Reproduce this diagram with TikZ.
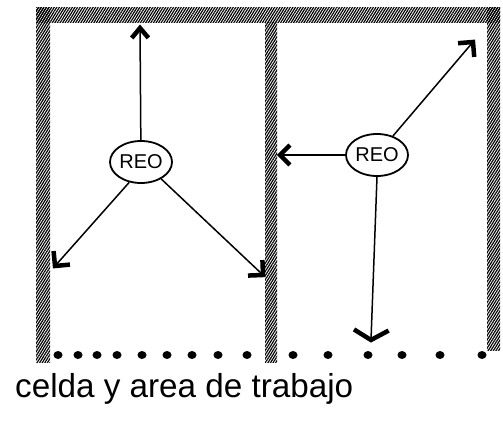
\documentclass[tikz,border=0pt]{standalone}
\usepackage{fontspec}
\setmainfont{Liberation Sans}
\usetikzlibrary{arrows.meta,patterns.meta,shapes.geometric,calc}
\newcommand\chevron[4]{\draw[head] ($(#1)!#3!#4:(#2)$) -- (#1) -- ($(#1)!#3!-#4:(#2)$);}
\begin{document}
\begin{tikzpicture}[x=1pt,y=-1pt,
  wall/.style={pattern={Lines[angle=58,distance=2.2pt,line width=1.2pt]},draw=none},
  reo/.style={ellipse,draw,line width=1.8pt,minimum width=62pt,minimum height=42pt,inner sep=0pt,font=\fontsize{20}{20}\selectfont},
  move/.style={line width=1.5pt},
  head/.style={line width=4.5pt,line join=miter,line cap=butt},
  dot/.style={fill=black,ellipse,minimum width=9pt,minimum height=8pt,inner sep=0pt}]
\useasboundingbox (0,0) rectangle (503,422);
% walls
\fill[wall] (36,8) rectangle (500,23);
\fill[wall] (36,8) rectangle (50,362);
\fill[wall] (265,23) rectangle (277,362);
\fill[wall] (487,8) rectangle (500,350);
% REO nodes
\node[reo] (r1) at (141,162) {REO};
\node[reo] (r2) at (377,155) {REO};
% targets
\coordinate (a1) at (140,28);
\coordinate (a2) at (55,266);
\coordinate (a3) at (263,275);
\coordinate (b1) at (280,155);
\coordinate (b2) at (473,42);
\coordinate (b3) at (371,340);
\draw[move] (r1) -- (a1);
\draw[move] (r1.240) -- (a2);
\draw[move] (r1.-40) -- (a3);
\draw[move] (r2) -- (b1);
\draw[move] (r2.50) -- (b2);
\draw[move] (r2.south) -- (b3);
\chevron{a1}{r1}{13pt}{40}
\chevron{a2}{r1}{15pt}{45}
\chevron{a3}{r1}{15pt}{45}
\chevron{b1}{r2}{14pt}{45}
\chevron{b2}{r2}{15pt}{45}
\chevron{b3}{r2}{20pt}{60}
% bottom dots
\foreach \x in {58,78,97,117,142,167,192,218,247,293,328,368,402,440,482}
  \node[dot] at (\x,355) {};
% caption
\node[anchor=base west,inner sep=0pt] (cap) at (15,397) {\resizebox{338pt}{!}{\fontsize{24}{24}\selectfont celda y area de trabajo}};
\end{tikzpicture}
\end{document}
